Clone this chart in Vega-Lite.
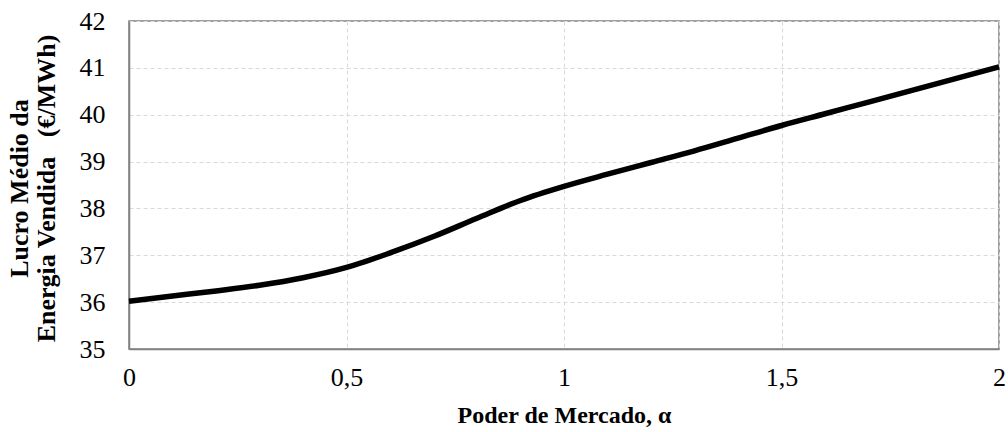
{
  "$schema": "https://vega.github.io/schema/vega-lite/v6.json",
  "width": 870,
  "height": 328,
  "autosize": {"type": "none"},
  "padding": {"left": 129, "top": 21, "right": 9, "bottom": 83},
  "background": "white",
  "data": {"values": [
    {"alpha": 0.0, "lucro": 36.02},
    {"alpha": 0.1, "lucro": 36.13},
    {"alpha": 0.2, "lucro": 36.24},
    {"alpha": 0.3, "lucro": 36.36},
    {"alpha": 0.4, "lucro": 36.52},
    {"alpha": 0.5, "lucro": 36.74},
    {"alpha": 0.6, "lucro": 37.05},
    {"alpha": 0.7, "lucro": 37.40},
    {"alpha": 0.8, "lucro": 37.79},
    {"alpha": 0.9, "lucro": 38.17},
    {"alpha": 1.0, "lucro": 38.47},
    {"alpha": 1.1, "lucro": 38.73},
    {"alpha": 1.2, "lucro": 38.98},
    {"alpha": 1.3, "lucro": 39.23},
    {"alpha": 1.4, "lucro": 39.50},
    {"alpha": 1.5, "lucro": 39.77},
    {"alpha": 1.6, "lucro": 40.02},
    {"alpha": 1.7, "lucro": 40.27},
    {"alpha": 1.8, "lucro": 40.52},
    {"alpha": 1.9, "lucro": 40.77},
    {"alpha": 2.0, "lucro": 41.02}
  ]},
  "mark": {"type": "line", "color": "black", "strokeWidth": 5.5, "interpolate": "monotone", "clip": false},
  "encoding": {
    "x": {
      "field": "alpha", "type": "quantitative",
      "scale": {"domain": [0, 2], "nice": false, "zero": false},
      "axis": {
        "values": [0, 0.5, 1, 1.5, 2],
        "labelExpr": "replace(format(datum.value, '~g'), '.', ',')",
        "labelFlush": false,
        "labelBound": false,
        "labelPadding": 15,
        "title": "Poder de Mercado, α",
        "titleFontWeight": "bold",
        "titleFontSize": 24,
        "titleY": 73,
        "titleBaseline": "alphabetic"
      }
    },
    "y": {
      "field": "lucro", "type": "quantitative",
      "scale": {"domain": [35, 42], "nice": false, "zero": false},
      "axis": {
        "values": [35, 36, 37, 38, 39, 40, 41, 42],
        "labelPadding": 24,
        "labelFlush": false,
        "labelBound": false,
        "title": ["Lucro Médio da", "Energia Vendida\u00a0\u00a0\u00a0(€/MWh)"],
        "titleFontWeight": "bold",
        "titleFontSize": 26,
        "titleLineHeight": 27,
        "titleX": -102,
        "titleY": 167,
        "titleAngle": -90,
        "titleAlign": "center",
        "titleBaseline": "alphabetic"
      }
    }
  },
  "config": {
    "font": "Liberation Serif",
    "view": {"stroke": "#808080", "strokeWidth": 1.5},
    "axis": {
      "labelFont": "Liberation Serif",
      "titleFont": "Liberation Serif",
      "labelFontSize": 26,
      "labelColor": "black",
      "titleColor": "black",
      "domainColor": "#808080",
      "domainWidth": 1.5,
      "ticks": false,
      "gridColor": "#d9d9d9",
      "gridDash": [4, 3],
      "gridWidth": 1
    }
  }
}
